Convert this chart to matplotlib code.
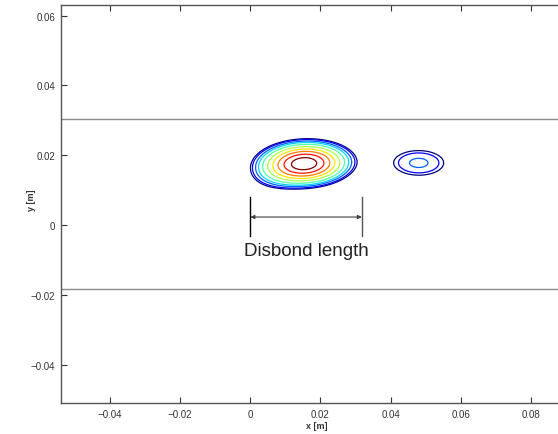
import numpy as np
import matplotlib.pyplot as plt

plt.rcParams['font.family'] = ['Liberation Sans', 'DejaVu Sans']

# contour field: blobs
# (centre x, centre y, sigma x, sigma y, amplitude, shear, tilt in degrees)
blob_x = [0.0154, 0.0060, 0.0480]
blob_y = [0.0176, 0.0135, 0.0178]
blob_sx = [0.0066, 0.0050, 0.0070]
blob_sy = [0.0033, 0.0030, 0.0035]
blob_amp = [1.00, 0.055, 0.148]
blob_shear = [0.35, 0.0, 0.15]
blob_tilt = [-4.0, 0.0, -3.0]
levels = [0.089, 0.106, 0.138, 0.174, 0.235, 0.325, 0.435, 0.56, 0.71, 0.874]

# boundary lines and disbond marker
edge_y = [0.0303, -0.0183]
disbond_x = [0.0, 0.0318]
disbond_label = "Disbond length"

xticks = [-0.04, -0.02, 0, 0.02, 0.04, 0.06, 0.08]
yticks = [-0.04, -0.02, 0, 0.02, 0.04, 0.06]

fig = plt.figure(figsize=(5.58, 4.35), dpi=100)
ax = fig.add_axes([0.109, 0.071, 0.893, 0.915])

gx = np.linspace(-0.01, 0.07, 500)
gy = np.linspace(0.0, 0.035, 300)
X, Y = np.meshgrid(gx, gy)
Z = np.zeros_like(X)
for bx, by, sx, sy, a, sh, tl in zip(blob_x, blob_y, blob_sx, blob_sy,
                                      blob_amp, blob_shear, blob_tilt):
    t = np.deg2rad(tl)
    dx = X - bx
    dy = Y - by
    u = dx * np.cos(t) + dy * np.sin(t)
    v = -dx * np.sin(t) + dy * np.cos(t)
    u = u - sh * v
    Z += a * np.exp(-(u ** 2 / (2 * sx ** 2) + v ** 2 / (2 * sy ** 2)))

line_colors = plt.cm.jet(np.linspace(0, 1, len(levels)))
ax.contour(X, Y, Z, levels=levels, colors=line_colors, linewidths=0.9)

for yy in edge_y:
    ax.axhline(yy, color='#8c8c8c', lw=1.0)

ax.plot([disbond_x[0], disbond_x[0]], [-0.0030, 0.0080], color='black', lw=1.0)
ax.plot([disbond_x[1], disbond_x[1]], [-0.0030, 0.0080], color='#555555', lw=1.0)
ax.annotate('', xy=(disbond_x[0], 0.0023), xytext=(disbond_x[1], 0.0023),
            arrowprops=dict(arrowstyle='<|-|>', color='#444444', lw=0.8,
                            mutation_scale=6, shrinkA=0, shrinkB=0))
ax.text(sum(disbond_x) / 2, -0.0072, disbond_label, ha='center', va='center',
        fontsize=13.5, color='#222222')

ax.set_xlim(-0.054, 0.088)
ax.set_ylim(-0.051, 0.063)
ax.set_xticks(xticks)
ax.set_yticks(yticks)
ax.set_xticklabels(['\u22120.04', '\u22120.02', '0', '0.02', '0.04', '0.06', '0.08'])
ax.set_yticklabels(['\u22120.04', '\u22120.02', '0', '0.02', '0.04', '0.06'])
ax.tick_params(direction='in', length=4, width=0.8, labelsize=7, colors='#333333',
               top=True, pad=4)
ax.spines['right'].set_visible(False)
for s in ['left', 'top', 'bottom']:
    ax.spines[s].set_color('#555555')
    ax.spines[s].set_linewidth(1.0)
ax.set_xlabel('x [m]', fontsize=6.5, fontweight='bold', color='#333333')
ax.set_ylabel('y [m]', fontsize=6.5, fontweight='bold', color='#333333')
ax.xaxis.set_label_coords(0.514, -0.046)
ax.yaxis.set_label_coords(-0.050, 0.513)

fig.savefig('out.png', dpi=100)
